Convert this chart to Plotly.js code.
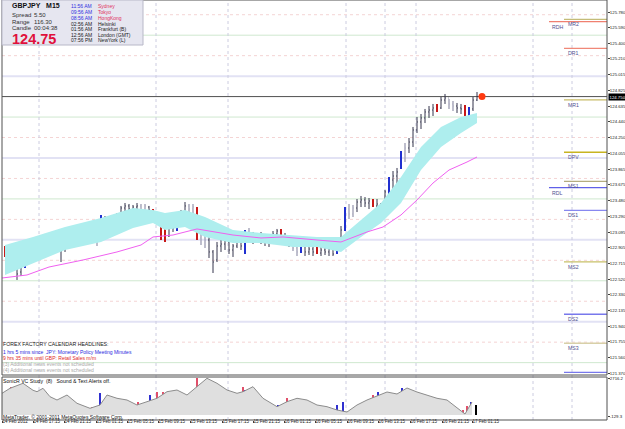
<!DOCTYPE html>
<html><head><meta charset="utf-8">
<script src="https://cdn.plot.ly/plotly-3.0.1.min.js"></script>
<style>html,body{margin:0;padding:0;background:#fff}#chart{width:625px;height:429px}</style>
</head><body><div id="chart"></div>
<script>
// ---------- DATA ----------
const barOpen = [122.900,122.815,122.778,122.705,122.607,122.681,122.778,122.864,122.900,122.949,
122.998,123.023,122.986,123.023,122.876,122.900,122.949,122.998,123.047,123.084,
123.096,123.047,123.059,122.998,123.096,123.267,123.218,123.169,123.230,123.304,
123.389,123.414,123.377,123.401,123.414,123.365,123.401,123.365,123.291,123.169,
123.120,123.047,123.169,123.133,123.218,123.340,123.414,123.377,123.389,123.023,
123.096,122.998,122.852,122.754,122.925,122.949,122.974,122.876,122.925,123.047,
122.876,123.096,123.047,123.023,123.047,122.998,123.023,122.974,123.072,123.120,
123.047,122.998,122.949,122.900,122.852,122.925,122.852,122.888,122.913,122.839,
122.876,122.852,122.888,122.852,122.998,123.133,123.377,123.316,123.389,123.462,
123.487,123.450,123.487,123.414,123.438,123.365,123.548,123.731,123.780,123.878,
124.049,124.122,124.195,124.342,124.440,124.489,124.562,124.586,124.647,124.611,
124.708,124.733,124.660,124.635,124.611,124.623,124.537,124.599,124.708];
const barHigh = [122.925,122.876,122.803,122.729,122.778,122.803,122.900,122.949,122.998,123.047,
123.072,123.047,123.084,123.035,122.949,122.998,123.047,123.096,123.120,123.145,
123.120,123.084,123.072,123.047,123.304,123.291,123.243,123.267,123.328,123.414,
123.450,123.438,123.426,123.450,123.438,123.438,123.414,123.377,123.340,123.194,
123.145,123.218,123.243,123.230,123.365,123.462,123.438,123.438,123.401,123.243,
123.145,123.047,122.876,122.974,123.023,123.047,122.998,122.949,123.096,123.059,
123.120,123.145,123.096,123.084,123.096,123.072,123.059,123.108,123.133,123.133,
123.084,123.047,123.010,122.962,122.949,122.937,122.925,122.913,122.925,122.925,
122.913,122.925,122.913,123.023,123.169,123.401,123.438,123.426,123.499,123.536,
123.523,123.511,123.499,123.499,123.450,123.609,123.768,123.841,123.878,124.085,
124.183,124.244,124.379,124.501,124.537,124.599,124.635,124.660,124.660,124.745,
124.782,124.721,124.696,124.672,124.660,124.647,124.623,124.745,124.806];
const barLow = [122.791,122.729,122.681,122.510,122.558,122.656,122.729,122.778,122.852,122.900,
122.949,122.925,122.962,122.852,122.729,122.852,122.900,122.925,122.974,122.998,
122.998,122.974,122.986,122.925,123.072,123.145,123.096,123.120,123.169,123.267,
123.340,123.340,123.328,123.352,123.328,123.340,123.316,123.279,123.194,122.998,
122.974,123.035,123.096,123.108,123.194,123.316,123.340,123.316,122.998,122.937,
122.900,122.778,122.595,122.729,122.852,122.876,122.827,122.791,122.900,122.876,
122.827,122.974,122.949,122.974,122.949,122.925,122.913,122.949,122.998,123.023,
122.949,122.913,122.864,122.803,122.839,122.803,122.815,122.803,122.827,122.803,
122.815,122.803,122.803,122.827,122.962,123.108,123.255,123.279,123.340,123.401,
123.401,123.377,123.401,123.340,123.291,123.365,123.523,123.609,123.658,123.866,
123.951,124.061,124.134,124.305,124.354,124.427,124.489,124.513,124.562,124.599,
124.660,124.599,124.574,124.550,124.537,124.513,124.489,124.574,124.696];
const barClose = [122.815,122.766,122.717,122.583,122.729,122.778,122.876,122.900,122.962,122.998,
123.023,122.974,123.047,122.876,122.900,122.962,123.010,123.047,123.084,123.108,
123.047,123.023,122.998,123.023,123.279,123.218,123.169,123.243,123.304,123.389,
123.414,123.377,123.401,123.414,123.365,123.414,123.365,123.291,123.243,123.023,
122.998,123.169,123.145,123.218,123.340,123.414,123.377,123.401,123.023,123.096,
122.998,122.852,122.729,122.925,122.949,122.998,122.876,122.925,123.047,122.925,
123.096,123.047,123.023,123.047,122.998,123.023,122.974,123.072,123.108,123.047,
122.998,122.949,122.900,122.852,122.925,122.852,122.888,122.852,122.839,122.876,
122.852,122.888,122.827,122.998,123.120,123.377,123.316,123.389,123.462,123.487,
123.450,123.475,123.414,123.438,123.365,123.585,123.743,123.780,123.829,124.061,
124.122,124.195,124.342,124.440,124.489,124.562,124.586,124.611,124.574,124.708,
124.733,124.660,124.635,124.611,124.599,124.537,124.599,124.708,124.750];
// bar colouring: n normal, g grey, r red, b blue
const barType = ("rnrnnbnnnn"+"nnnrnnnnnn"+"ggrgbnnnnn"+"nnnnggnrnr"+"rnnbnnggrg"+
                 "gnnnnnnnnn"+"bgnnnnnnnr"+"nnggbnnnrn"+"nnnbnbggnn"+"nnrnnnbnnb"+
                 "gnnnnnnnrn"+"nggnnrbnn").split("");

const bandX     = [0,7,15,24,32,37,40,45,50,57,64,72,78,84,89,94,99,104,109,114,118];
const bandUpper = [122.937,123.035,123.157,123.267,123.389,123.365,123.328,123.365,123.279,123.120,123.084,
                   123.059,123.035,123.035,123.243,123.450,123.768,124.134,124.379,124.501,124.550];
const bandLower = [122.571,122.717,122.876,122.974,123.145,123.206,123.120,123.157,123.035,122.962,122.962,
                   122.913,122.913,122.852,123.035,123.206,123.450,123.853,124.134,124.305,124.427];

const maX = [-0.75,5.5,11,19.5,28,34,37,42,48,52,57,64,69.5,78,84,90.5,94.5,99,103,107,111,115.5,118];
const maY = [122.534,122.571,122.668,122.754,122.852,122.937,123.035,123.059,123.133,123.096,123.059,123.023,
             123.035,122.998,122.974,123.096,123.157,123.304,123.487,123.694,123.853,123.951,124.012];

const roundLevels   = [125.0,124.0,123.0,122.0];
const halfLevels    = [125.5,124.5,123.5,122.5,121.5];
const quarterLevels = [125.75,125.25,124.25,123.75,123.25,122.75,122.25,121.75];

const pivotNames  = ["MR2","RDH","DR1","MR1","DPV","MS1","RDL","DS1","MS2","DS2","MS3","DS3"];
const pivotLevels = [125.694,125.665,125.340,124.709,124.070,123.715,123.637,123.361,122.730,122.091,121.737,121.382];
const pivotColors = ["#c4bc78","#f08070","#f08878","#c8bc68","#c8b420","#b4ac80","#6060e8","#8888f0","#c8c068","#7878ec","#d8d0a8","#7878ec"];

const volX = [-0.75,1.25,4.5,7,8,9.5,11.25,13,15.5,18,21.25,23.75,25.5,28,30.5,33,35.5,38,40.5,43,45.5,48,50.5,
              53,55.5,58,59.5,62,64.5,68,70.5,73,75.5,78,80.5,83,85.5,88,90.5,93,95.5,98,100.5,103,105.5,108,110.5,113,115,116.75];
const volY = [1623,1997,2372,1850,1743,1997,1368,1121,1496,874,500,747,1496,1249,1121,747,994,1249,1743,1870,1496,2117,2746,
              2372,1870,1623,1743,2117,1249,620,994,1249,1121,747,620,372,223,747,1121,1421,1720,1571,2019,1720,1496,1249,1121,522,73,971];
const spikeX = [1.5,4.5,21.75,23.75,33.25,36.25,38,39.5,43.25,48,59.5,60,68.25,70.5,74.5,79.25,82,83,84.5,92,93.25,99.25,107.5,114.5,115.5,116.5,117.75];
const spikeY = [2117,2372,620,1646,994,1496,1743,1720,1368,2746,2117,1870,747,1249,994,522,372,747,971,1496,1720,2019,1121,372,671,971,747];
const spikeC = ["r","b","r","b","r","b","r","r","b","r","r","b","b","r","b","r","b","b","b","r","b","b","r","r","r","b","k"];

const priceTicks = [125.780,125.590,125.400,125.210,125.015,124.825,124.635,124.440,124.250,124.055,123.865,123.675,
                    123.480,123.290,123.095,122.905,122.715,122.520,122.330,122.135,121.940,121.755,121.560,121.370];
const volTicks = [2716.2,-129.3];
const timeLabels = ["14 Feb 2012","14 Feb 17:15","14 Feb 21:15","15 Feb 01:15","15 Feb 05:15","15 Feb 09:15","15 Feb 13:15",
  "15 Feb 17:15","15 Feb 21:15","16 Feb 01:15","16 Feb 05:15","16 Feb 09:15","16 Feb 13:15","16 Feb 17:15","16 Feb 21:15","17 Feb 01:15"];
const timeLabelBar = [-0.75,7,14.75,22.75,30.5,38.25,46.25,54.25,62,69.75,77.5,85.5,93.25,101.25,109.25,116.75];
const sepBars = [8.5,37.75,55.75,85.25,95,102.75,132,141.75];

const sessionTimes  = ["11:56 AM","09:56 AM","08:56 AM","02:56 AM","01:56 AM","12:56 AM","07:56 PM"];
const sessionCities = ["Sydney","Tokyo","HongKong","Helsinki","Frankfurt (B)","London (GMT)","NewYork (L)"];
const sessionOpen   = [true,true,true,false,false,false,false];
const newsLines = ["1 hrs 5 mins since  JPY: Monetary Policy Meeting Minutes","9 hrs 35 mins until GBP: Retail Sales m/m",
                   "(3) Additional news events not scheduled","(4) Additional news events not scheduled"];
const newsColors = ["#2a2ae0","#e02828","#a8a8a8","#a8a8a8"];

// ---------- DRAWING ----------
const SANS = '"Liberation Sans", Arial, sans-serif';
const N = barClose.length;
const idx = barClose.map((_, i) => i);
const typeStyle = {n:{c:"#34344c",w:1}, g:{c:"#a4a4b8",w:1.4}, r:{c:"#c81818",w:2}, b:{c:"#2030d0",w:2}};
const traces = [];
traces.push({x:bandX, y:bandLower, mode:"lines", line:{width:0,color:"rgba(0,0,0,0)"}, hoverinfo:"skip", showlegend:false});
traces.push({x:bandX, y:bandUpper, mode:"lines", line:{width:0,color:"rgba(0,0,0,0)"}, fill:"tonexty", fillcolor:"#aeeeee", hoverinfo:"skip", showlegend:false});
traces.push({x:maX, y:maY, mode:"lines", line:{width:1,color:"#f060f0"}, hoverinfo:"skip", showlegend:false});
["n","g","r","b"].forEach(t => {
  const sel = idx.filter(i => barType[i] === t);
  const st = typeStyle[t];
  traces.push({type:"ohlc", x:sel, open:sel.map(i=>barOpen[i]), high:sel.map(i=>barHigh[i]), low:sel.map(i=>barLow[i]), close:sel.map(i=>barClose[i]),
    increasing:{line:{color:st.c,width:st.w}}, decreasing:{line:{color:st.c,width:st.w}}, tickwidth:0.2, hoverinfo:"skip", showlegend:false});
});
traces.push({x:[N - 1 + 1.25], y:[barClose[N-1]], mode:"markers", marker:{color:"#ff3a10", size:7}, hoverinfo:"skip", showlegend:false});
traces.push({x:volX, y:volY, yaxis:"y2", mode:"lines", line:{color:"#8c8c8c", width:1}, fill:"tozeroy",
  fillcolor:"rgba(0,0,0,0)", fillpattern:{shape:"|", fgcolor:"#c8c8c8", bgcolor:"#f6f6f6", size:2, solidity:0.5}, hoverinfo:"skip", showlegend:false});
const sc = {r:"#e0506a", b:"#3030d0", k:"#000000"};
traces.push({type:"bar", x:spikeX, y:spikeY, yaxis:"y2", width:spikeC.map(c=> c==="k"?0.55:0.3),
  marker:{color:spikeC.map(c=>sc[c]), line:{width:0}}, hoverinfo:"skip", showlegend:false});

const shapes = [];
const hl = (lv, color, width, dash) => shapes.push({type:"line", xref:"paper", yref:"y", x0:0, x1:1, y0:lv, y1:lv, layer:"below", line:{color, width, dash}});
roundLevels.forEach(l => hl(l, "#e2e2f4", 2, "solid"));
halfLevels.forEach(l => hl(l, "#cfe8cf", 1, "solid"));
quarterLevels.forEach(l => hl(l, "#f4d4d4", 1, "dot"));
sepBars.forEach(b => shapes.push({type:"line", xref:"x", yref:"paper", x0:b, x1:b, y0:0, y1:1, layer:"below", line:{color:"#cccce0", width:1, dash:"dot"}}));
hl(barClose[N-1], "#505050", 1, "solid");
pivotLevels.forEach((lv, k) => {
  const start = pivotNames[k].startsWith("R") ? 136 : 139.75;
  shapes.push({type:"line", xref:"x", yref:"y", x0:start, x1:150.5, y0:lv, y1:lv, line:{color:pivotColors[k], width:1.3}});
});
// frames
const mainBottom = 45/420, volTop = 43/420;
shapes.push({type:"rect", xref:"paper", yref:"paper", x0:0, x1:1, y0:mainBottom, y1:1, line:{color:"#505050", width:1}});
shapes.push({type:"rect", xref:"paper", yref:"paper", x0:0, x1:1, y0:0, y1:volTop, line:{color:"#505050", width:1}});
// info box
const PX = p => (p - 2) / 605, PY = p => (420 - p) / 420;
shapes.push({type:"rect", xref:"paper", yref:"paper", x0:PX(2), x1:PX(143), y0:PY(45), y1:PY(0), fillcolor:"#e6e6f0", line:{color:"#b8b8c8", width:1}, layer:"above"});

const ann = [];
const txt = (t, px, py, color, size, bold) => ann.push({text: bold ? "<b>"+t+"</b>" : t, xref:"paper", yref:"paper", x:PX(px), y:PY(py),
  xanchor:"left", yanchor:"middle", showarrow:false, borderpad:0, font:{family:SANS, size, color}});
txt("GBPJPY   M15", 11, 6, "#101010", 7, true);
txt("Spread", 11, 15, "#303030", 6); txt("5.50", 33, 15, "#303030", 6);
txt("Range", 11, 21.5, "#303030", 6); txt("116.30", 33, 21.5, "#303030", 6);
txt("Candle", 11, 28, "#303030", 6); txt("00:04:38", 33, 28, "#303030", 6);
txt(barClose[N-1].toFixed(2), 11, 38.5, "#e0103c", 14.5, true);
const rowY = [6,12,17.7,23.5,29.2,34.8,40.4];
sessionTimes.forEach((t, k) => {
  txt(t, 70, rowY[k], sessionOpen[k] ? "#3030e0" : "#202020", 5);
  txt(sessionCities[k], 97, rowY[k], sessionOpen[k] ? "#e03060" : "#202020", 5);
});
txt("FOREX FACTORY CALENDAR HEADLINES:", 2, 344, "#202020", 5.2);
newsLines.forEach((t, k) => txt(t, 2, 351.5 + k*6, newsColors[k], 5));
txt("SonicR VC Study  (8)   Sound &amp; Text Alerts off.", 2, 380.5, "#101010", 5.2);
txt("MetaTrader, © 2001-2011 MetaQuotes Software Corp.", 2, 416.5, "#101010", 5);
pivotNames.forEach((nm, k) => {
  if (nm === "DS3") return;
  const start = nm.startsWith("R") ? 136.5 : 140.5;
  ann.push({text:nm, xref:"x", yref:"y", x:start, y:pivotLevels[k], yshift:-5, xanchor:"left", yanchor:"middle", showarrow:false, borderpad:0,
    font:{family:SANS, size:5.2, color:"#505090"}});
});
ann.push({text:barClose[N-1].toFixed(3), xref:"paper", yref:"y", x:PX(608), y:barClose[N-1], xanchor:"left", yanchor:"middle", showarrow:false,
  bgcolor:"#000000", borderpad:0.5, font:{family:SANS, size:4.3, color:"#ffffff"}});

const tickFont = {family:SANS, size:4.3, color:"#202020"};
const layout = {
  width:625, height:429, margin:{l:2, r:18, t:0, b:9}, paper_bgcolor:"#ffffff", plot_bgcolor:"#ffffff", showlegend:false, bargap:0,
  xaxis:{domain:[0,1], range:[-0.75,150.5], anchor:"y2", rangeslider:{visible:false}, showgrid:false, zeroline:false, automargin:false,
    tickmode:"array", tickvals:timeLabelBar, ticktext:timeLabels, tickangle:0, ticks:"outside", ticklen:2, tickcolor:"#404040",
    ticklabelposition:"outside right", ticklabelstandoff:-3, tickfont:{family:SANS, size:4.5, color:"#202020"}, showline:false, fixedrange:true},
  yaxis:{domain:[mainBottom,1], range:[121.349,125.930], side:"right", anchor:"x", showgrid:false, zeroline:false, automargin:false,
    tickmode:"array", tickvals:priceTicks, ticktext:priceTicks.map(v=>v.toFixed(3)), ticks:"outside", ticklen:2, tickcolor:"#404040",
    ticklabelstandoff:-1, tickfont:tickFont, showline:false},
  yaxis2:{domain:[0,volTop], range:[-376.3,2843.5], side:"right", anchor:"x", showgrid:false, zeroline:false, automargin:false,
    tickmode:"array", tickvals:volTicks, ticktext:volTicks.map(v=>v.toFixed(1)), ticks:"outside", ticklen:2, tickcolor:"#404040",
    ticklabelstandoff:-1, tickfont:tickFont, showline:false},
  shapes, annotations:ann
};
Plotly.newPlot("chart", traces, layout, {staticPlot:true, displayModeBar:false});
</script></body></html>
